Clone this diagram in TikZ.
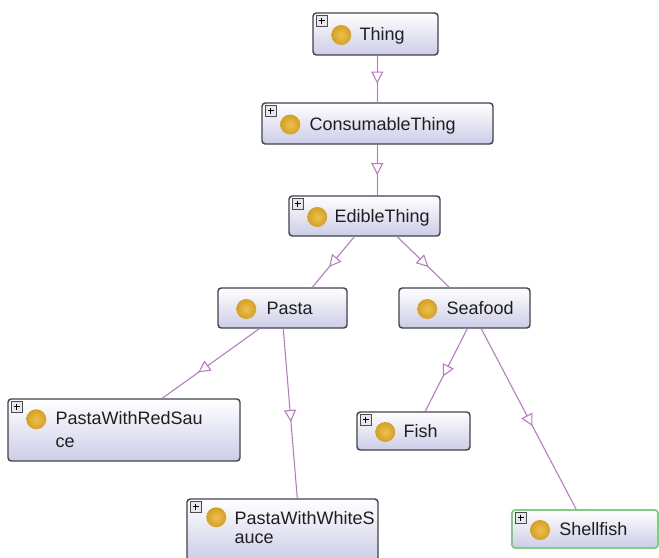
\documentclass[tikz,border=0pt]{standalone}
\usepackage{fontspec}
\setmainfont{Liberation Sans}
\usetikzlibrary{arrows.meta,decorations.markings,fit}

\definecolor{edgepurple}{RGB}{182,122,194}
\definecolor{boxline}{RGB}{66,66,78}
\definecolor{boxlav}{RGB}{204,204,232}
\definecolor{dotinner}{RGB}{238,192,78}
\definecolor{dotouter}{RGB}{212,160,36}
\definecolor{shellgreen}{RGB}{128,204,128}
\definecolor{plusfill}{RGB}{230,230,236}

\tikzset{
  cls/.style={rectangle, rounded corners=2.5pt, draw=boxline, line width=1.1pt,
    top color=white, bottom color=boxlav, inner sep=0pt},
  clstext/.style={anchor=base west, inner sep=0pt,
    font=\fontsize{13.5}{16}\selectfont, text=black!88},
  dotshade/.style={inner color=dotinner, outer color=dotouter},
  plusbox/.style={draw=black!70, fill=plusfill, line width=0.5pt},
  plussign/.style={draw=black, line width=0.8pt},
  isa/.style={draw=edgepurple, line width=0.8pt, postaction={decorate},
    decoration={markings, mark=at position #1 with
      {\arrow[edgepurple]{Triangle[length=9pt,width=9pt,fill=white,line width=0.8pt]}}}},
}

% gold class marker: node, x offset, y offset from north west corner
\newcommand\classdot[3]{%
  \shade[dotshade] ([shift={(#2,#3)}]#1.north west) circle[radius=7.5pt];}
% small expander square with a plus in the upper left corner
\newcommand\expander[1]{%
  \draw[plusbox] ([shift={(4,3)}]#1.north west) rectangle ([shift={(15,14)}]#1.north west);
  \draw[plussign] ([shift={(6.5,8.5)}]#1.north west) -- ([shift={(12.5,8.5)}]#1.north west)
    ([shift={(9.5,5.5)}]#1.north west) -- ([shift={(9.5,11.5)}]#1.north west);}

\begin{document}
\begin{tikzpicture}[x=0.75pt, y=-0.75pt]
\useasboundingbox[fill=white] (0,0) rectangle (659,557);

% class boxes
\node[cls, fit={(313,13) (438,55)}] (thing) {};
\node[cls, fit={(262,103) (493,144)}] (cons) {};
\node[cls, fit={(289,196) (440,236)}] (edible) {};
\node[cls, fit={(218,288) (347,328)}] (pasta) {};
\node[cls, fit={(399,288) (530,328)}] (seafood) {};
\node[cls, fit={(8,399) (240,461)}] (red) {};
\node[cls, fit={(357,412) (470,450)}] (fish) {};
\node[cls, fit={(187,499) (378,561)}] (white) {};
\node[cls, draw=shellgreen, line width=1.4pt, fit={(512,510) (658,548)}] (shell) {};

% markers
\foreach \n in {thing,cons,edible,pasta,seafood,fish,shell}{
  \shade[dotshade] ([shift={(29,1)}]\n.west) circle[radius=7.5pt];
}
\classdot{red}{29}{21}
\classdot{white}{30}{19}
\foreach \n in {thing,cons,edible,red,fish,white,shell}{\expander{\n}}

% labels
\node[clstext] (thingT) at ([shift={(47,6.5)}]thing.west) {Thing};
\node[clstext] (consT) at ([shift={(48,6.5)}]cons.west) {ConsumableThing};
\node[clstext] (edibleT) at ([shift={(46,6.5)}]edible.west) {EdibleThing};
\node[clstext] (pastaT) at ([shift={(49,6.5)}]pasta.west) {Pasta};
\node[clstext] (seafoodT) at ([shift={(48,6.5)}]seafood.west) {Seafood};
\node[clstext] (fishT) at ([shift={(47,6.5)}]fish.west) {Fish};
\node[clstext] (shellT) at ([shift={(48,6.5)}]shell.west) {Shellfish};
\node[clstext] (redA) at ([shift={(48,26)}]red.north west) {PastaWithRedSau};
\node[clstext] (redB) at ([shift={(48,49)}]red.north west) {ce};
\node[clstext] (whiteA) at ([shift={(48,26)}]white.north west) {PastaWithWhiteS};
\node[clstext] (whiteB) at ([shift={(48,45)}]white.north west) {auce};

% subclass links
\draw[isa=0.6] ([shift={(65,0)}]thing.south west) -- ([shift={(116,0)}]cons.north west);
\draw[isa=0.6] ([shift={(116,0)}]cons.south west) -- ([shift={(89,0)}]edible.north west);
\draw[isa=0.6] ([shift={(66,0)}]edible.south west) -- ([shift={(95,0)}]pasta.north west);
\draw[isa=0.6] ([shift={(109,0)}]edible.south west) -- ([shift={(51,0)}]seafood.north west);
\draw[isa=0.63] ([shift={(42,0)}]pasta.south west) -- ([shift={(155,0)}]red.north west);
\draw[isa=0.55] ([shift={(66,0)}]pasta.south west) -- ([shift={(111,0)}]white.north west);
\draw[isa=0.58] ([shift={(69,0)}]seafood.south west) -- ([shift={(69,0)}]fish.north west);
\draw[isa=0.54] ([shift={(83,0)}]seafood.south west) -- ([shift={(65,0)}]shell.north west);
\end{tikzpicture}
\end{document}
